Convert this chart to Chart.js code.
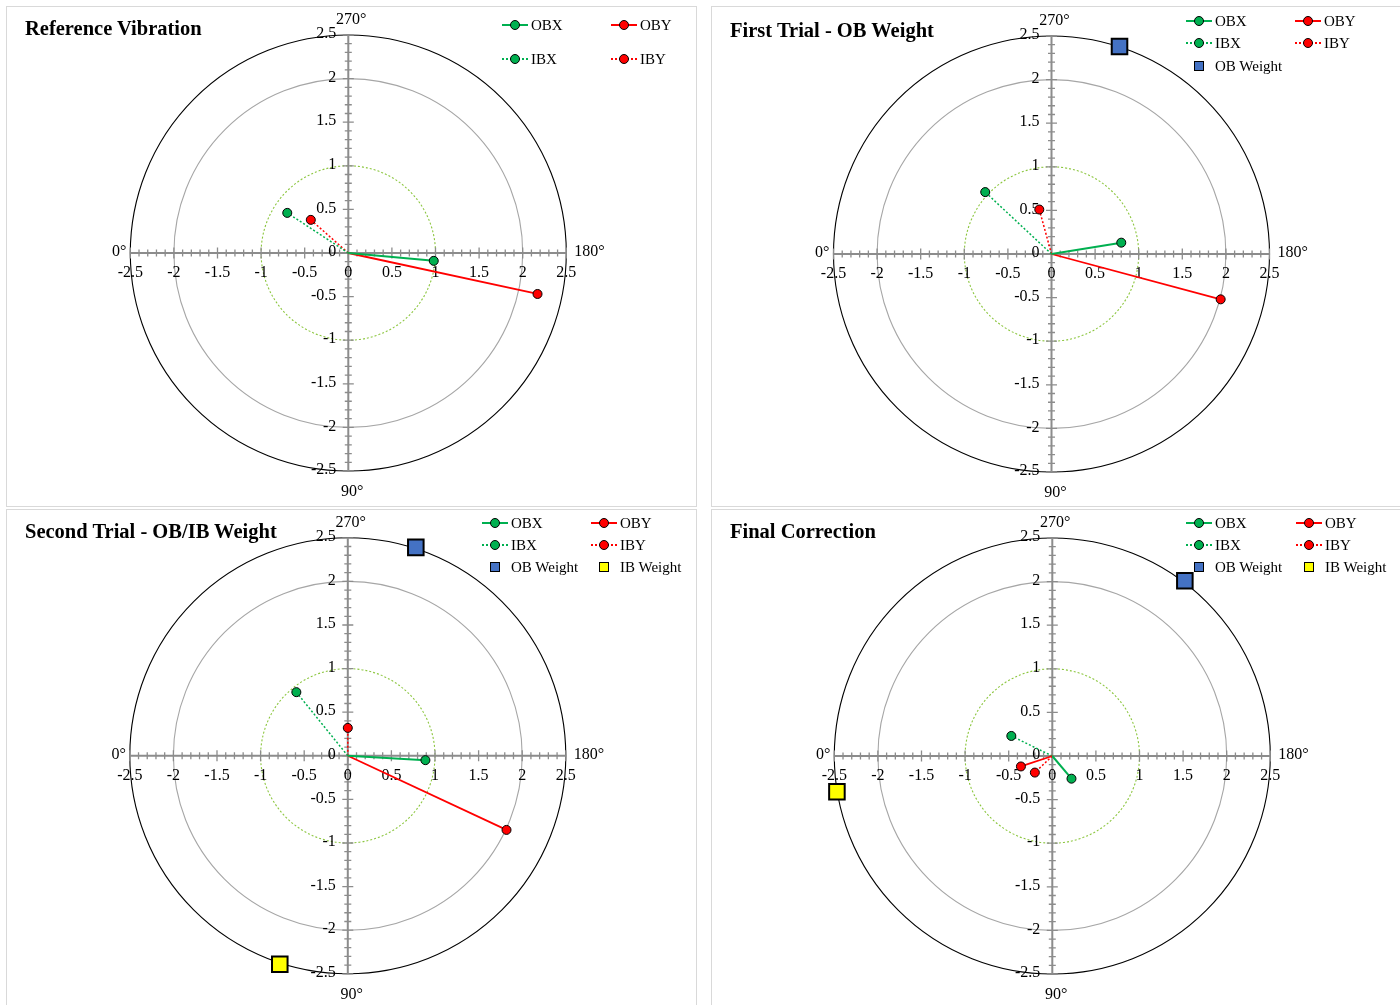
<!DOCTYPE html>
<html><head><meta charset="utf-8">
<script src="https://cdn.jsdelivr.net/npm/chart.js@4.4.1/dist/chart.umd.min.js"></script>
<style>
html,body{margin:0;padding:0;background:#fff;}
body{width:1400px;height:1005px;position:relative;overflow:hidden;font-family:"Liberation Serif","Times New Roman",serif;color:#000;}
.frame{position:absolute;border:1px solid #d9d9d9;box-sizing:border-box;}
canvas.c{position:absolute;}
.title{position:absolute;font-weight:bold;font-size:20.5px;line-height:20px;white-space:nowrap;}
.lg{position:absolute;width:0;height:0;}
.lg .ln{position:absolute;left:0;top:-1px;width:26px;height:0;}
.lg .dot{position:absolute;left:8px;top:-5px;width:8px;height:8px;border:1px solid #000;border-radius:50%;}
.lg .sq{position:absolute;left:8px;top:-5px;width:8px;height:8px;border:1.5px solid #000;}
.lg .tx{position:absolute;left:29px;top:-9px;font-size:15px;line-height:18px;white-space:nowrap;}
</style>
</head><body>
<script>
// ---------------- DATA ----------------
const PANEL_TITLES = ["Reference Vibration", "First Trial - OB Weight", "Second Trial - OB/IB Weight", "Final Correction"];
const SERIES_NAMES = ["OBX", "OBY", "IBX", "IBY", "OB Weight", "IB Weight"];
// [x, y] per panel
const OBX = [[0.98, -0.09], [0.80, 0.13], [0.89, -0.05], [0.22, -0.26]];
const OBY = [[2.17, -0.47], [1.94, -0.52], [1.82, -0.85], [-0.36, -0.12]];
const IBX = [[-0.70, 0.46], [-0.76, 0.71], [-0.59, 0.73], [-0.47, 0.23]];
const IBY = [[-0.43, 0.38], [-0.14, 0.51], [0.00, 0.32], [-0.20, -0.19]];
const OB_WEIGHT = [null, [0.78, 2.38], [0.78, 2.39], [1.52, 2.01]];
const IB_WEIGHT = [null, null, [-0.78, -2.39], [-2.47, -0.41]];
const TICK_VALUES = [-2.5, -2, -1.5, -1, -0.5, 0, 0.5, 1, 1.5, 2, 2.5];
const TICK_LABELS = ["-2.5", "-2", "-1.5", "-1", "-0.5", "0", "0.5", "1", "1.5", "2", "2.5"];
const RING_RADII = [1, 2, 2.5];
const ANGLE_LABELS = { top: "270°", bottom: "90°", left: "0°", right: "180°" };
const AXIS_MIN = -2.5, AXIS_MAX = 2.5;

// ---------------- LAYOUT / STYLE ----------------
const PANELS = [
  { left: 6,   top: 6,   w: 691, h: 501, cx: 348.3,  cy: 253,   titleY: 18,  legendRows: [19, 53] },
  { left: 711, top: 6,   w: 692, h: 501, cx: 1051.5, cy: 254,   titleY: 20,  legendRows: [15, 37, 60] },
  { left: 6,   top: 509, w: 691, h: 500, cx: 347.8,  cy: 755.8, titleY: 521, legendRows: [14, 36, 58] },
  { left: 711, top: 509, w: 692, h: 500, cx: 1052.3, cy: 756,   titleY: 521, legendRows: [14, 36, 58] }
];
const LEGEND_COLS = [[509, 618], [488, 597], [489, 598], [488, 598]];
const HALF = 218; // px from centre to 2.5
const GREEN = '#00b050', RED = '#ff0000', BLUE = '#4472c4', YELLOW = '#ffff00';
const RING_STYLES = [
  { color: '#8cc63f', dash: [2, 2] },
  { color: '#a6a6a6', dash: [] },
  { color: '#000000', dash: [] }
];
const FONT = '16px "Liberation Serif", "Times New Roman", serif';

const polarGrid = {
  id: 'polarGrid',
  beforeDatasetsDraw(chart) {
    const { ctx, scales: { x, y } } = chart;
    const x0 = x.getPixelForValue(0), y0 = y.getPixelForValue(0);
    ctx.save();
    RING_RADII.forEach((r, i) => {
      const rx = Math.abs(x.getPixelForValue(r) - x0);
      const ry = Math.abs(y.getPixelForValue(r) - y0);
      ctx.beginPath();
      ctx.ellipse(x0, y0, rx, ry, 0, 0, Math.PI * 2);
      ctx.strokeStyle = RING_STYLES[i].color;
      ctx.lineWidth = 1.1;
      ctx.setLineDash(RING_STYLES[i].dash);
      ctx.stroke();
    });
    ctx.setLineDash([]);
    const xl = x.getPixelForValue(AXIS_MIN), xr = x.getPixelForValue(AXIS_MAX);
    const yt = y.getPixelForValue(AXIS_MAX), yb = y.getPixelForValue(AXIS_MIN);
    ctx.strokeStyle = '#8c8c8c';
    ctx.lineWidth = 2;
    ctx.beginPath();
    ctx.moveTo(xl, y0); ctx.lineTo(xr, y0);
    ctx.moveTo(x0, yt); ctx.lineTo(x0, yb);
    ctx.stroke();
    ctx.lineWidth = 1.3;
    for (let i = -25; i <= 25; i++) {
      const v = i / 10;
      const len = (i % 5 === 0) ? 5.5 : 3.5;
      const px = x.getPixelForValue(v), py = y.getPixelForValue(v);
      ctx.beginPath();
      ctx.moveTo(px, y0 - len); ctx.lineTo(px, y0 + len);
      ctx.moveTo(x0 - len, py); ctx.lineTo(x0 + len, py);
      ctx.stroke();
    }
    ctx.fillStyle = '#000';
    ctx.font = FONT;
    ctx.textBaseline = 'middle';
    ctx.textAlign = 'center';
    TICK_VALUES.forEach((v, i) => {
      ctx.fillText(TICK_LABELS[i], x.getPixelForValue(v), y0 + 20);
    });
    ctx.textAlign = 'right';
    TICK_VALUES.forEach((v, i) => {
      ctx.fillText(TICK_LABELS[i], x0 - 12, y.getPixelForValue(v) - 1);
    });
    ctx.textAlign = 'center';
    ctx.fillText(ANGLE_LABELS.top, x0 + 3, yt - 15);
    ctx.fillText(ANGLE_LABELS.bottom, x0 + 4, yb + 21);
    ctx.textAlign = 'right';
    ctx.fillText(ANGLE_LABELS.left, xl - 4, y0 - 1);
    ctx.textAlign = 'left';
    ctx.fillText(ANGLE_LABELS.right, xr + 8, y0 - 1);
    ctx.restore();
  }
};

function vec(label, pt, color, dashed, width) {
  return {
    label,
    data: [{ x: 0, y: 0 }, { x: pt[0], y: pt[1] }],
    showLine: true,
    borderColor: color,
    borderWidth: width,
    borderDash: dashed ? [2, 2] : [],
    pointRadius: c => c.dataIndex === 0 ? 0 : 4.5,
    pointBackgroundColor: color,
    pointBorderColor: '#000',
    pointBorderWidth: 1,
    clip: false
  };
}
function weight(label, pt, color) {
  return {
    label,
    data: [{ x: pt[0], y: pt[1] }],
    showLine: false,
    pointStyle: 'rect',
    pointRadius: 11,
    pointBackgroundColor: color,
    pointBorderColor: '#000',
    pointBorderWidth: 2,
    clip: false
  };
}

function addLegendItem(x, y, kind, color, dotted, text) {
  const d = document.createElement('div');
  d.className = 'lg';
  d.style.left = (x - 13) + 'px';
  d.style.top = y + 'px';
  let html = '';
  if (kind === 'line') {
    html += `<div class="ln" style="border-top:${dotted ? '2px dotted' : '2px solid'} ${color}"></div>`;
    html += `<div class="dot" style="background:${color}"></div>`;
  } else {
    html += `<div class="sq" style="background:${color}"></div>`;
  }
  html += `<div class="tx">${text}</div>`;
  d.innerHTML = html;
  document.body.appendChild(d);
}

PANELS.forEach((p, k) => {
  const fr = document.createElement('div');
  fr.className = 'frame';
  Object.assign(fr.style, { left: p.left + 'px', top: p.top + 'px', width: p.w + 'px', height: p.h + 'px' });
  document.body.appendChild(fr);

  const cv = document.createElement('canvas');
  cv.className = 'c';
  cv.width = p.w; cv.height = p.h;
  Object.assign(cv.style, { left: p.left + 'px', top: p.top + 'px', width: p.w + 'px', height: p.h + 'px' });
  document.body.appendChild(cv);

  const datasets = [];
  if (IB_WEIGHT[k]) datasets.push(weight(SERIES_NAMES[5], IB_WEIGHT[k], YELLOW));
  if (OB_WEIGHT[k]) datasets.push(weight(SERIES_NAMES[4], OB_WEIGHT[k], BLUE));
  datasets.push(vec(SERIES_NAMES[0], OBX[k], GREEN, false, 2));
  datasets.push(vec(SERIES_NAMES[1], OBY[k], RED, false, 1.8));
  datasets.push(vec(SERIES_NAMES[2], IBX[k], GREEN, true, 1.5));
  datasets.push(vec(SERIES_NAMES[3], IBY[k], RED, true, 1.5));

  const cx = p.cx - p.left, cy = p.cy - p.top;
  new Chart(cv, {
    type: 'scatter',
    data: { datasets },
    options: {
      responsive: false,
      animation: false,
      devicePixelRatio: 1,
      events: [],
      layout: { padding: { left: cx - HALF, right: p.w - (cx + HALF), top: cy - HALF, bottom: p.h - (cy + HALF) } },
      scales: {
        x: { type: 'linear', min: AXIS_MIN, max: AXIS_MAX, display: false },
        y: { type: 'linear', min: AXIS_MIN, max: AXIS_MAX, display: false }
      },
      plugins: { legend: { display: false }, tooltip: { enabled: false }, title: { display: false } }
    },
    plugins: [polarGrid]
  });

  const t = document.createElement('div');
  t.className = 'title';
  t.textContent = PANEL_TITLES[k];
  t.style.left = (p.left + 19) + 'px';
  t.style.top = p.titleY + 'px';
  document.body.appendChild(t);

  const [c1, c2] = LEGEND_COLS[k].map(v => v + p.left);
  const r = p.legendRows.map(v => v + p.top);
  addLegendItem(c1, r[0], 'line', GREEN, false, SERIES_NAMES[0]);
  addLegendItem(c2, r[0], 'line', RED, false, SERIES_NAMES[1]);
  addLegendItem(c1, r[1], 'line', GREEN, true, SERIES_NAMES[2]);
  addLegendItem(c2, r[1], 'line', RED, true, SERIES_NAMES[3]);
  if (OB_WEIGHT[k]) addLegendItem(c1, r[2], 'sq', BLUE, false, SERIES_NAMES[4]);
  if (IB_WEIGHT[k]) addLegendItem(c2, r[2], 'sq', YELLOW, false, SERIES_NAMES[5]);
});
</script>
</body></html>
